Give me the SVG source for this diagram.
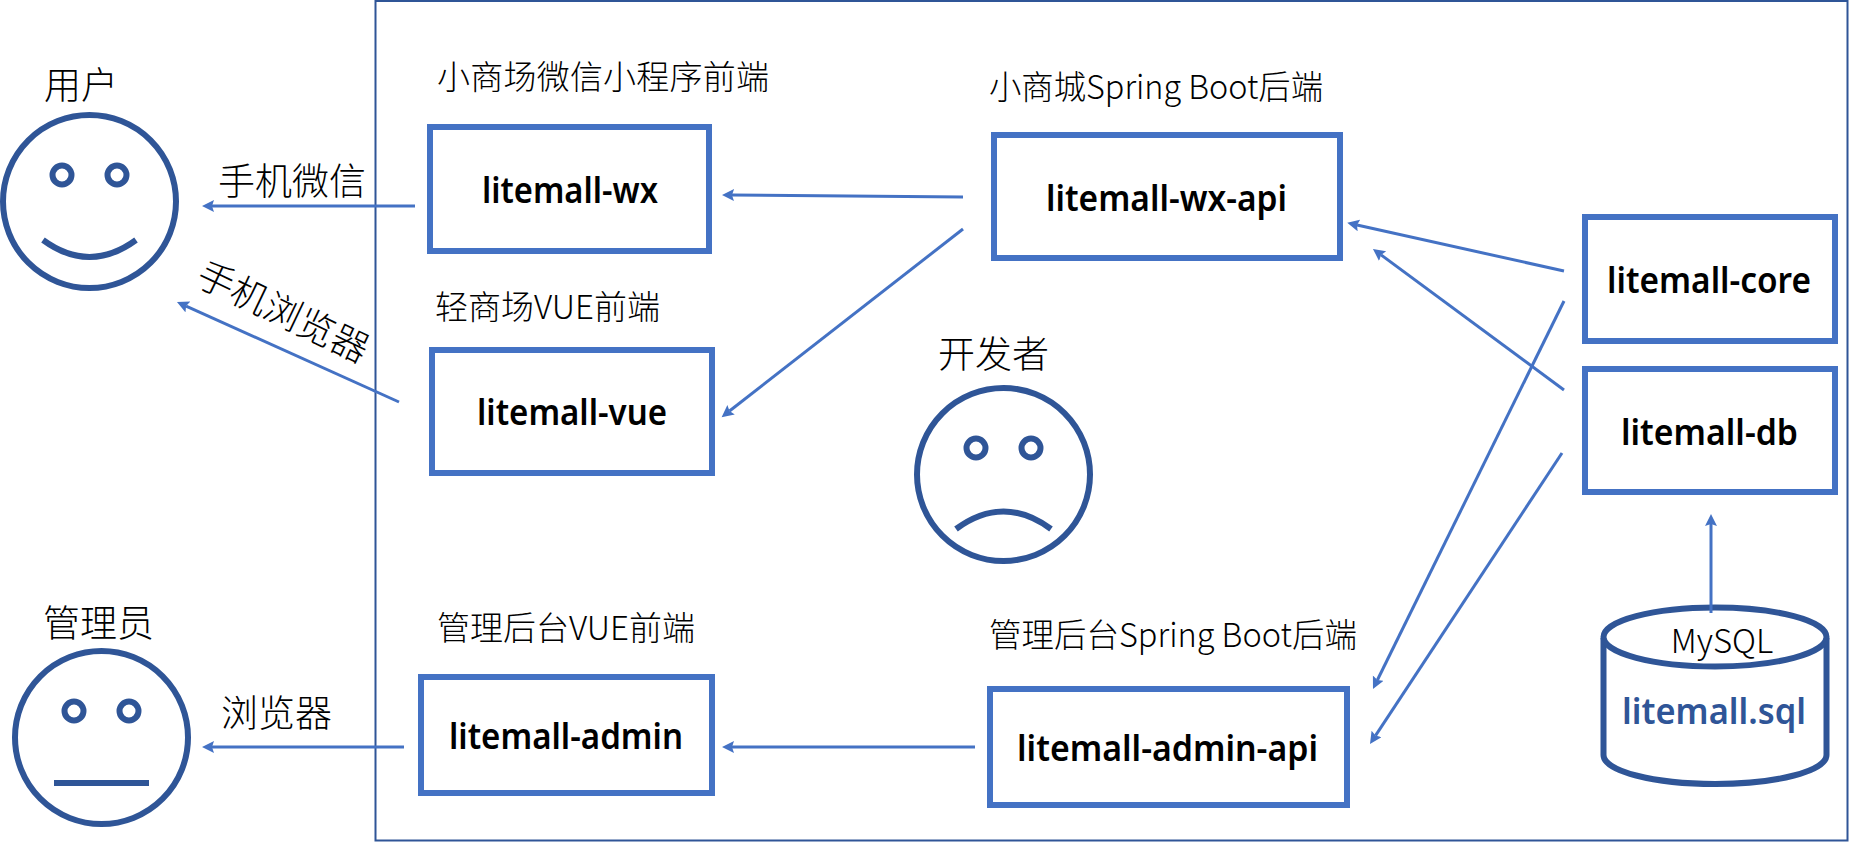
<svg xmlns="http://www.w3.org/2000/svg" width="1849" height="842" viewBox="0 0 1849 842">
<defs>
<marker id="ah" markerUnits="userSpaceOnUse" markerWidth="14" markerHeight="14" refX="2" refY="6" orient="auto"><path d="M0 0L12 6L0 12L2 6Z" fill="#4472C4"/></marker>
</defs>
<style>
.box{fill:#fff;stroke:#4472C4;stroke-width:6}
.face{fill:none;stroke:#2F5597;stroke-width:6}
.lab{font-family:"Noto Sans CJK SC","Noto Sans",sans-serif;font-weight:300;fill:#000}
.s33{font-size:33px}.s37{font-size:37px}
.nm{font-family:"Noto Sans","Noto Sans CJK SC",sans-serif;font-weight:600;font-size:36px;fill:#000;text-anchor:middle}
.con line{stroke:#4472C4;stroke-width:3;marker-end:url(#ah)}
</style>
<rect width="1849" height="842" fill="#fff"/>
<rect id="frame" x="375.5" y="1" width="1472" height="839.5" fill="none" stroke="#2F5597" stroke-width="2"/>
<g id="user"><circle class="face" cx="89.5" cy="201.5" r="86.5"/><circle class="face" cx="62" cy="175" r="9.5"/><circle class="face" cx="117" cy="175" r="9.5"/><path class="face" d="M43 240Q89.500 274 136 240"/><text class="lab s37" x="44" y="99">用户</text></g>
<g id="admin-user"><circle class="face" cx="101.500" cy="737.500" r="86.500"/><circle class="face" cx="74" cy="711" r="9.500"/><circle class="face" cx="129" cy="711" r="9.500"/><path class="face" d="M54 783H149"/><text class="lab s37" x="43" y="637">管理员</text></g>
<g id="developer"><circle class="face" cx="1003.500" cy="474.500" r="86.500"/><circle class="face" cx="976" cy="448" r="9.500"/><circle class="face" cx="1031" cy="448" r="9.500"/><path class="face" d="M956 529Q1003.500 494 1051 529"/><text class="lab s37" x="938" y="368">开发者</text></g>
<g id="litemall-wx"><rect class="box" x="430" y="127" width="279" height="124"/><text class="nm" x="570" y="203" textLength="176" lengthAdjust="spacingAndGlyphs">litemall-wx</text></g>
<g id="litemall-vue"><rect class="box" x="432" y="350" width="280" height="123"/><text class="nm" x="572" y="425" textLength="190" lengthAdjust="spacingAndGlyphs">litemall-vue</text></g>
<g id="litemall-admin"><rect class="box" x="421" y="677" width="291" height="116"/><text class="nm" x="566" y="749" textLength="234" lengthAdjust="spacingAndGlyphs">litemall-admin</text></g>
<g id="litemall-wx-api"><rect class="box" x="994" y="135" width="346" height="123"/><text class="nm" x="1166.500" y="211" textLength="241" lengthAdjust="spacingAndGlyphs">litemall-wx-api</text></g>
<g id="litemall-core"><rect class="box" x="1585" y="217" width="250" height="124"/><text class="nm" x="1709" y="293" textLength="204" lengthAdjust="spacingAndGlyphs">litemall-core</text></g>
<g id="litemall-db"><rect class="box" x="1585" y="369" width="250" height="123"/><text class="nm" x="1709.500" y="445" textLength="177" lengthAdjust="spacingAndGlyphs">litemall-db</text></g>
<g id="litemall-admin-api"><rect class="box" x="990" y="689" width="357" height="116"/><text class="nm" x="1167.500" y="761" textLength="301" lengthAdjust="spacingAndGlyphs">litemall-admin-api</text></g>
<g id="litemall-sql"><path class="face" d="M1603.500 638V755A111.500 29 0 0 0 1826.500 755V638"/><ellipse class="face" cx="1715" cy="637" rx="111.500" ry="29.500"/><text class="lab s33" x="1722" y="653" text-anchor="middle">MySQL</text><text class="nm" x="1714" y="724" textLength="184" lengthAdjust="spacingAndGlyphs" style="fill:#2F5597">litemall.sql</text></g>
<g id="labels">
<text class="lab s33" x="437" y="89" textLength="332">小商场微信小程序前端</text>
<text class="lab s33" x="435" y="319">轻商场VUE前端</text>
<text class="lab s33" x="437" y="640">管理后台VUE前端</text>
<text class="lab s33" x="989" y="98.500" textLength="334" lengthAdjust="spacingAndGlyphs">小商城Spring Boot后端</text>
<text class="lab s33" x="989" y="647" textLength="368" lengthAdjust="spacingAndGlyphs">管理后台Spring Boot后端</text>
<text class="lab s37" x="218" y="195">手机微信</text>
<text class="lab s37" x="221" y="727">浏览器</text>
<text class="lab s37" text-anchor="middle" transform="translate(283 312) rotate(25.500)" y="13">手机浏览器</text>
</g>
<g id="connectors" class="con">
<line x1="415" y1="206" x2="212" y2="206"/>
<line x1="399" y1="402" x2="186.100" y2="306.100"/>
<line x1="963" y1="197" x2="732" y2="195"/>
<line x1="963" y1="229" x2="729.500" y2="411"/>
<line x1="1564" y1="271" x2="1357" y2="225"/>
<line x1="1564" y1="390" x2="1381" y2="254.900"/>
<line x1="1564" y1="301" x2="1377.400" y2="680"/>
<line x1="1562" y1="453" x2="1375.500" y2="735.600"/>
<line x1="1711" y1="613" x2="1711" y2="524"/>
<line x1="975" y1="747" x2="732" y2="747"/>
<line x1="404" y1="747" x2="212" y2="747"/>
</g>
</svg>
